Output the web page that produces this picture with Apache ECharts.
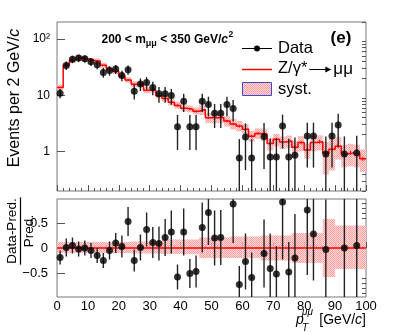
<!DOCTYPE html>
<html><head><meta charset="utf-8">
<script src="https://cdn.jsdelivr.net/npm/echarts@6/dist/echarts.min.js"></script>
<style>html,body{margin:0;padding:0;background:#fff}#c{width:407px;height:333px}</style>
</head><body><div id="c"></div>
<script>
// ---------------- data ----------------
const binCenters = [1,3,5,7,9,11,13,15,17,19,21,23,25,27,29,31,33,35,37,39,41,43,45,47,49,51,53,55,57,59,61,63,65,67,69,71,73,75,77,79,81,83,85,87,89,91,93,95,97,99];
const binHalfWidth = 1;
const predicted = [13.8,34,42,46,44.5,41.4,40.5,34,29,26.5,21.8,18.6,15.7,15.7,12.3,12.3,9.8,8.8,7.5,6.6,5.9,5.65,5.2,5.6,4.0,4.0,4.0,3.5,3.1,2.85,2.5,1.88,2.1,2.05,1.4,1.65,1.48,1.54,1.2,1.45,1.07,1.45,1.5,0.94,1.1,1.25,0.91,0.95,0.91,0.75];
const predStatRel = [0.02,0.02,0.02,0.02,0.02,0.02,0.02,0.02,0.025,0.025,0.03,0.03,0.03,0.03,0.035,0.035,0.04,0.04,0.04,0.045,0.045,0.045,0.05,0.05,0.05,0.05,0.055,0.055,0.06,0.06,0.06,0.065,0.065,0.065,0.07,0.07,0.07,0.07,0.075,0.075,0.075,0.08,0.08,0.08,0.08,0.08,0.085,0.085,0.085,0.09];
const sysUp = [0.12,0.12,0.12,0.12,0.12,0.12,0.12,0.12,0.12,0.12,0.12,0.12,0.13,0.13,0.13,0.13,0.13,0.17,0.17,0.17,0.17,0.17,0.17,0.21,0.21,0.21,0.21,0.21,0.23,0.23,0.23,0.23,0.23,0.25,0.25,0.25,0.25,0.25,0.3,0.3,0.3,0.3,0.3,0.58,0.58,0.45,0.45,0.45,0.45,0.45];
const sysDn = [0.1,0.1,0.1,0.1,0.1,0.1,0.1,0.1,0.1,0.1,0.1,0.1,0.11,0.11,0.11,0.11,0.11,0.12,0.12,0.12,0.12,0.12,0.12,0.2,0.2,0.2,0.2,0.2,0.2,0.2,0.2,0.2,0.2,0.25,0.25,0.25,0.25,0.25,0.3,0.3,0.3,0.3,0.3,0.58,0.58,0.42,0.42,0.42,0.42,0.42];
const dataValues = [10.9,33.8,43.8,45.7,44.4,39.3,34.8,25.5,27.6,29.2,22.5,28.4,11.8,15.9,16.9,13.7,10.7,10.7,9.9,2.77,7.84,2.77,2.77,7.84,6.85,4.82,4.82,6.85,5.82,0.77,1.82,0.77,null,1.85,0.8,0.8,2.84,0.8,0.86,null,1.89,1.89,null,0.91,1.89,2.96,0.91,null,0.95,null];
const dataErrors = [2.0,5.8,6.6,6.8,6.7,6.3,5.9,5.0,5.3,5.4,4.7,5.3,3.4,4.0,4.1,3.7,3.3,3.3,3.1,1.7,2.8,1.7,1.7,2.8,2.6,2.2,2.2,2.6,2.4,0.9,1.35,0.9,null,1.36,0.9,0.9,1.7,0.9,0.93,null,1.37,1.37,null,0.95,1.37,1.72,0.95,null,0.97,null];
const ratioValues = [-0.19,0.01,0.05,-0.02,0.0,-0.05,-0.15,-0.25,-0.05,0.1,0.03,0.53,-0.25,0.01,0.37,0.11,0.09,0.21,0.32,-0.58,0.32,-0.51,-0.47,0.41,0.71,0.2,0.21,null,0.88,-0.73,-0.27,-0.59,null,-0.11,-0.41,-0.52,0.92,-0.48,-0.2,null,0.76,0.28,null,-0.03,null,null,0.0,null,0.05,null];
const ratioErrors = [0.14,0.18,0.16,0.15,0.15,0.15,0.15,0.15,0.18,0.2,0.22,0.29,0.22,0.26,0.34,0.31,0.34,0.37,0.43,0.25,0.47,0.29,0.32,0.5,0.65,0.55,0.55,null,0.78,0.37,0.56,0.5,null,0.68,0.7,0.56,1.15,0.6,0.88,null,1.3,0.93,null,1.0,null,null,1.05,null,1.05,null];
const upperYLabels = [1, 10, 100];
const upperYMinor = [0.2,0.3,0.4,0.5,0.6,0.7,0.8,0.9,2,3,4,5,6,7,8,9,20,30,40,50,60,70,80,90,200];
const lowerYLabels = [-0.5, 0, 0.5];
const lowerYMinor = [-0.9,-0.8,-0.7,-0.6,-0.4,-0.3,-0.2,-0.1,0.1,0.2,0.3,0.4,0.6,0.7,0.8,0.9];
const xRange = [0, 100];
const upperYRange = [0.2, 200];
const lowerYRange = [-0.98, 0.98];

// ---------------- styling ----------------
const FAM = '"Liberation Sans", Arial, Helvetica, sans-serif';
const RED = '#ff0000';
const ERR = '#222222';
const FRAME = '#777777';
const TICK = '#555555';
const pat = document.createElement('canvas'); pat.width = 2; pat.height = 2;
const pctx = pat.getContext('2d');
pctx.fillStyle = '#ffd6d6'; pctx.fillRect(0, 0, 2, 2);
pctx.fillStyle = '#ffa0a0'; pctx.fillRect(0, 0, 1, 1); pctx.fillRect(1, 1, 1, 1);
const BAND = { image: pat, repeat: 'repeat' };

const ctx = document.createElement('canvas').getContext('2d');
function tw(t, font) { ctx.font = font; return ctx.measureText(t).width; }
function fontOf(p) { return (p.style || 'normal') + ' ' + (p.weight || 'normal') + ' ' + p.size + 'px ' + FAM; }
function txt(x, y, t, font, align) {
  return { type: 'text', x: x, y: y, style: { text: t, font: font, fill: '#000', textAlign: align || 'left', textVerticalAlign: 'middle', verticalAlign: 'middle' } };
}
function seq(parts, x0, y0) {
  let x = x0; const els = [];
  parts.forEach(p => {
    const f = fontOf(p);
    x += (p.dx || 0);
    els.push(txt(x, y0 + (p.dy || 0), p.t, f));
    x += tw(p.t, f);
  });
  return { els, width: x - x0 };
}
function width(parts) { let w = 0; parts.forEach(p => { w += (p.dx || 0) + tw(p.t, fontOf(p)); }); return w; }

// ---------------- series data built from arrays ----------------
const bandUpper = binCenters.map((c, i) => [c, predicted[i] * (1 - sysDn[i]), predicted[i] * (1 + sysUp[i])]);
const bandLower = binCenters.map((c, i) => [c, -sysDn[i], sysUp[i]]);
const stepLine = binCenters.map((c, i) => [c - binHalfWidth, predicted[i]]);
stepLine.push([binCenters[binCenters.length - 1] + binHalfWidth, predicted[predicted.length - 1]]);
const predStat = binCenters.map((c, i) => [c, predicted[i] * (1 - predStatRel[i]), predicted[i] * (1 + predStatRel[i])]);
const dataPts = []; const dataBars = [];
binCenters.forEach((c, i) => { if (dataValues[i] != null) { dataPts.push([c, dataValues[i]]); dataBars.push([c, dataValues[i] - dataErrors[i], dataValues[i] + dataErrors[i]]); } });
const ratioPts = []; const ratioBars = [];
binCenters.forEach((c, i) => { if (ratioValues[i] != null) { ratioPts.push([c, ratioValues[i]]); ratioBars.push([c, ratioValues[i] - ratioErrors[i], ratioValues[i] + ratioErrors[i]]); } });

function rectItem(yMin, yMax) {
  return function (params, api) {
    const c = api.value(0);
    const lo = Math.max(api.value(1), yMin), hi = Math.min(api.value(2), yMax);
    const p1 = api.coord([c - binHalfWidth, hi]);
    const p2 = api.coord([c + binHalfWidth, lo]);
    return { type: 'rect', shape: { x: p1[0], y: p1[1], width: p2[0] - p1[0], height: p2[1] - p1[1] }, style: { fill: BAND } };
  };
}
function barItem(yMin, yMax, color, w) {
  return function (params, api) {
    const c = api.value(0);
    const lo = Math.max(api.value(1), yMin), hi = Math.min(api.value(2), yMax);
    const p1 = api.coord([c, hi]);
    const p2 = api.coord([c, lo]);
    return { type: 'line', shape: { x1: p1[0], y1: p1[1], x2: p2[0], y2: p2[1] }, style: { stroke: color, lineWidth: w } };
  };
}

// ---------------- axes ----------------
function xAx(grid, showLabels) {
  return {
    type: 'value', gridIndex: grid, min: xRange[0], max: xRange[1], interval: 10,
    axisLine: { show: false }, splitLine: { show: false },
    axisTick: { show: true, inside: true, length: 6, lineStyle: { color: TICK, width: 1 } },
    minorTick: { show: true, splitNumber: 5, length: 3, lineStyle: { color: TICK, width: 1 } },
    axisLabel: { show: showLabels, fontFamily: FAM, fontSize: 13, color: '#000', margin: 3 }
  };
}
const yAxes = [
  { type: 'log', logBase: 10, gridIndex: 0, min: upperYRange[0], max: upperYRange[1],
    axisLine: { show: false }, splitLine: { show: false },
    axisTick: { show: true, inside: true, length: 8, customValues: upperYLabels, lineStyle: { color: TICK } },
    axisLabel: { show: true, customValues: upperYLabels, fontFamily: FAM, fontSize: 12, color: '#000', margin: 7,
      formatter: v => (Math.abs(v - 100) < 1e-6 ? '10²' : Math.abs(v - 10) < 1e-6 ? '10' : '1') } },
  { type: 'log', logBase: 10, gridIndex: 0, min: upperYRange[0], max: upperYRange[1],
    axisLine: { show: false }, splitLine: { show: false },
    axisTick: { show: true, inside: true, length: 4, customValues: upperYMinor, lineStyle: { color: TICK } },
    axisLabel: { show: false } },
  { type: 'value', gridIndex: 1, min: lowerYRange[0], max: lowerYRange[1],
    axisLine: { show: false }, splitLine: { show: false },
    axisTick: { show: true, inside: true, length: 8, customValues: lowerYLabels, lineStyle: { color: TICK } },
    axisLabel: { show: true, customValues: lowerYLabels, fontFamily: FAM, fontSize: 13, color: '#000', margin: 9,
      formatter: v => (Math.abs(v) < 1e-9 ? '0' : (v < 0 ? '\u2212' + Math.abs(v) : String(v))) } },
  { type: 'value', gridIndex: 1, min: lowerYRange[0], max: lowerYRange[1],
    axisLine: { show: false }, splitLine: { show: false },
    axisTick: { show: true, inside: true, length: 4, customValues: lowerYMinor, lineStyle: { color: TICK } },
    axisLabel: { show: false } }
];

// ---------------- graphic texts ----------------
const g = [];
const titleParts = [
  { t: '200 < m', size: 12, weight: 'bold' },
  { t: '\u03bc\u03bc', size: 9, weight: 'bold', dy: 4 },
  { t: ' < 350 GeV/', size: 12, weight: 'bold' },
  { t: 'c', size: 12, weight: 'bold', style: 'italic' },
  { t: '2', size: 8.5, weight: 'bold', dy: -4.5, dx: 0.5 }
];
seq(titleParts, 101.5, 39.5).els.forEach(e => g.push(e));
g.push(txt(341, 38.5, '(e)', 'bold 17px ' + FAM, 'center'));
// legend
const LF = '16.5px ' + FAM;
g.push({ type: 'line', shape: { x1: 242, y1: 48.5, x2: 272, y2: 48.5 }, style: { stroke: '#000', lineWidth: 1 } });
g.push({ type: 'circle', shape: { cx: 257, cy: 48.5, r: 3 }, style: { fill: '#000' } });
g.push(txt(278, 48, 'Data', LF));
g.push({ type: 'line', shape: { x1: 242, y1: 69.5, x2: 272, y2: 69.5 }, style: { stroke: RED, lineWidth: 1.5 } });
const zw = tw('Z/\u03b3*', LF);
g.push(txt(278, 68.5, 'Z/\u03b3*', LF));
const ax0 = 278 + zw + 2, ax1 = ax0 + 22;
g.push({ type: 'line', shape: { x1: ax0, y1: 69.5, x2: ax1 - 1, y2: 69.5 }, style: { stroke: '#000', lineWidth: 1 } });
g.push({ type: 'polygon', shape: { points: [[ax1, 69.5], [ax1 - 6, 66.5], [ax1 - 6, 72.5]] }, style: { fill: '#000' } });
g.push(txt(ax1 + 2, 69, '\u03bc\u03bc', '17px ' + FAM));
g.push({ type: 'rect', shape: { x: 242.5, y: 82.5, width: 29, height: 13 }, style: { fill: BAND, stroke: '#4444cc', lineWidth: 1 } });
g.push(txt(278, 89, 'syst.', LF));
// y title upper
const yt = [{ t: 'Events per 2 GeV/', size: 16 }, { t: 'c', size: 16, style: 'italic' }];
const ytw = width(yt);
g.push({ type: 'group', x: 15, y: 98, rotation: Math.PI / 2, children: seq(yt, -ytw / 2, 0).els });
// y title lower (fraction)
const numF = '13.5px ' + FAM;
const numW = tw('Data-Pred.', numF);
g.push({ type: 'group', x: 20.5, y: 231, rotation: Math.PI / 2, children: [
  txt(0, -8.5, 'Data-Pred.', numF, 'center'),
  { type: 'line', shape: { x1: -numW / 2 - 1, y1: 0, x2: numW / 2 + 1, y2: 0 }, style: { stroke: '#000', lineWidth: 1.2 } },
  txt(0, 8.5, 'Pred.', numF, 'center')
] });
// x title
g.push(txt(296, 320, 'p', 'italic 14px ' + FAM));
g.push(txt(302, 312, '\u03bc\u03bc', 'italic 10px ' + FAM));
g.push(txt(302, 328, 'T', 'italic 10px ' + FAM));
const xt = [{ t: '[GeV/', size: 14 }, { t: 'c', size: 14, style: 'italic' }, { t: ']', size: 14 }];
const xtw = width(xt);
seq(xt, 366 - xtw, 320).els.forEach(e => g.push(e));

// ---------------- chart ----------------
const chart = echarts.init(document.getElementById('c'), null, { renderer: 'canvas' });
chart.setOption({
  animation: false,
  backgroundColor: '#fff',
  grid: [
    { left: 57, top: 22, width: 309, height: 169, show: true, borderColor: FRAME, borderWidth: 1, backgroundColor: 'transparent' },
    { left: 57, top: 199, width: 309, height: 98, show: true, borderColor: FRAME, borderWidth: 1, backgroundColor: 'transparent' }
  ],
  xAxis: [xAx(0, false), xAx(1, true)],
  yAxis: yAxes,
  series: [
    { type: 'custom', xAxisIndex: 0, yAxisIndex: 0, data: bandUpper, renderItem: rectItem(upperYRange[0], upperYRange[1]), encode: { x: 0, y: [1, 2] }, z: 1, silent: true },
    { type: 'line', xAxisIndex: 0, yAxisIndex: 0, data: stepLine, step: 'end', showSymbol: false, lineStyle: { color: RED, width: 1.5 }, z: 2, silent: true },
    { type: 'custom', xAxisIndex: 0, yAxisIndex: 0, data: predStat, renderItem: barItem(upperYRange[0], upperYRange[1], RED, 1), encode: { x: 0, y: [1, 2] }, z: 2, silent: true },
    { type: 'custom', xAxisIndex: 0, yAxisIndex: 0, data: dataBars, renderItem: barItem(upperYRange[0] * 1.001, upperYRange[1], ERR, 1.4), encode: { x: 0, y: [1, 2] }, z: 3, silent: true },
    { type: 'scatter', xAxisIndex: 0, yAxisIndex: 0, data: dataPts, symbol: 'circle', symbolSize: 7, itemStyle: { color: '#000' }, z: 4, silent: true },

    { type: 'custom', xAxisIndex: 1, yAxisIndex: 2, data: bandLower, renderItem: rectItem(lowerYRange[0], lowerYRange[1]), encode: { x: 0, y: [1, 2] }, z: 1, silent: true },
    { type: 'line', xAxisIndex: 1, yAxisIndex: 2, data: [[xRange[0], 0], [xRange[1], 0]], showSymbol: false, lineStyle: { color: RED, width: 1.5 }, z: 2, silent: true },
    { type: 'custom', xAxisIndex: 1, yAxisIndex: 2, data: ratioBars, renderItem: barItem(lowerYRange[0], lowerYRange[1], ERR, 1.4), encode: { x: 0, y: [1, 2] }, z: 3, silent: true },
    { type: 'scatter', xAxisIndex: 1, yAxisIndex: 2, data: ratioPts, symbol: 'circle', symbolSize: 7, itemStyle: { color: '#000' }, z: 4, silent: true }
  ],
  graphic: { elements: g }
});
</script></body></html>
